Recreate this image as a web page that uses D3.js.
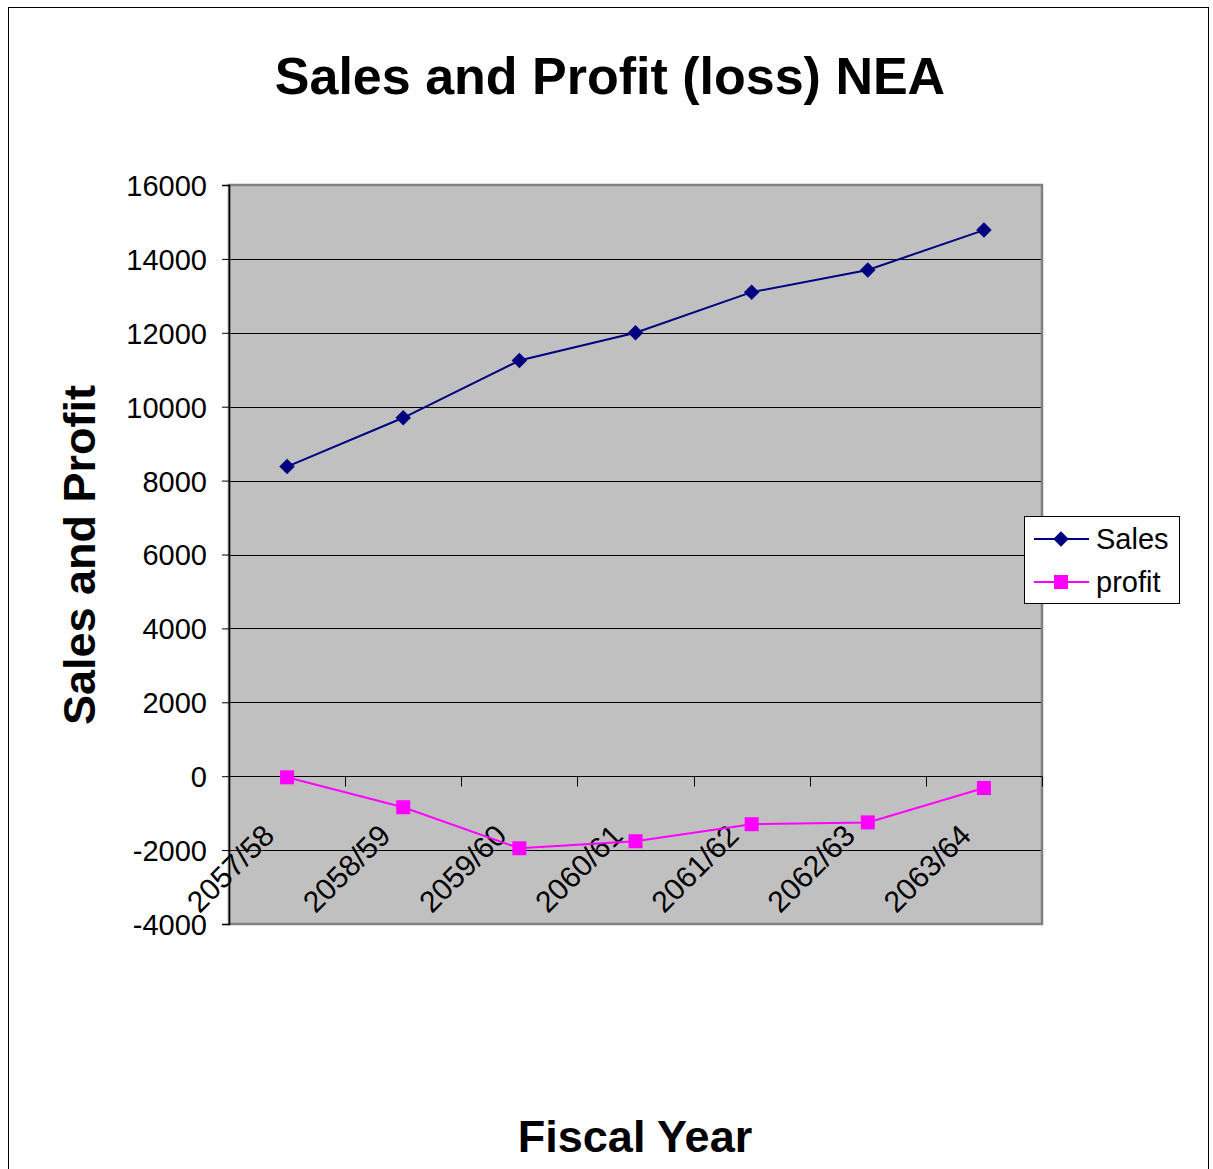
<!DOCTYPE html>
<html>
<head>
<meta charset="utf-8">
<script src="https://cdn.jsdelivr.net/npm/d3@7"></script>
<style>
  html, body { margin: 0; padding: 0; background: #fff; }
  svg { display: block; font-family: Arial, "Liberation Sans", sans-serif; }
</style>
</head>
<body>
<svg id="chart" width="1213" height="1169"></svg>
<script>
// Fiscal years and the two series plotted against them
const years = ["2057/58", "2058/59", "2059/60", "2060/61", "2061/62", "2062/63", "2063/64"];
const sales = [8380, 9700, 11250, 12000, 13100, 13700, 14780];
const profit = [-30, -840, -1950, -1760, -1300, -1250, -320];
const yTicks = [-4000, -2000, 0, 2000, 4000, 6000, 8000, 10000, 12000, 14000, 16000];

const svg = d3.select("#chart");
const W = 1213, H = 1169;

// outer frame
svg.append("rect")
  .attr("x", 8.5).attr("y", 7.5)
  .attr("width", 1200).attr("height", H + 10)
  .attr("fill", "#fff").attr("stroke", "#000").attr("stroke-width", 1);

const plot = { left: 229, top: 185, right: 1042, bottom: 924 };

const x = d3.scaleBand().domain(years).range([plot.left, plot.right]).paddingInner(0).paddingOuter(0);
const y = d3.scaleLinear().domain([-4000, 16000]).range([plot.bottom, plot.top]);

// plot area background
svg.append("rect")
  .attr("x", plot.left).attr("y", plot.top)
  .attr("width", plot.right - plot.left).attr("height", plot.bottom - plot.top)
  .attr("fill", "#C0C0C0");

// horizontal gridlines
svg.append("g")
  .selectAll("line")
  .data(yTicks.filter(t => t !== -4000 && t !== 16000))
  .join("line")
  .attr("x1", plot.left).attr("x2", plot.right)
  .attr("y1", d => Math.round(y(d)) + 0.5).attr("y2", d => Math.round(y(d)) + 0.5)
  .attr("stroke", "#000").attr("stroke-width", 1);

// plot border
svg.append("rect")
  .attr("x", plot.left).attr("y", plot.top)
  .attr("width", plot.right - plot.left).attr("height", plot.bottom - plot.top)
  .attr("fill", "none").attr("stroke", "#808080").attr("stroke-width", 2.5);

// value axis (plain hyphen for negatives)
const yAxis = d3.axisLeft(y).tickValues(yTicks).tickSize(7).tickPadding(15)
  .tickFormat(d => String(d));
const gy = svg.append("g").attr("transform", `translate(${plot.left},0)`).call(yAxis);
gy.select(".domain").attr("stroke", "#000").attr("stroke-width", 1.5);
gy.selectAll(".tick line").attr("stroke", "#000");
gy.selectAll(".tick text")
  .attr("font-size", 29).attr("fill", "#000")
  .attr("font-family", "Arial, 'Liberation Sans', sans-serif")
  .attr("dy", "0.36em");

// category axis along zero
const zeroY = Math.round(y(0)) + 0.5;
const gx = svg.append("g").attr("transform", `translate(0,${zeroY})`);
gx.append("line").attr("x1", plot.left).attr("x2", plot.right).attr("stroke", "#000").attr("stroke-width", 1);
const bounds = years.map(d => x(d)).concat([plot.right]);
gx.selectAll("line.tick")
  .data(bounds.slice(1))
  .join("line").attr("class", "tick")
  .attr("x1", d => Math.round(d) + 0.5).attr("x2", d => Math.round(d) + 0.5)
  .attr("y1", 0).attr("y2", 10)
  .attr("stroke", "#000");
gx.selectAll("text")
  .data(years)
  .join("text")
  .attr("transform", d => `translate(${x(d) + x.bandwidth() / 2 - 11},${61}) rotate(-45)`)
  .attr("text-anchor", "end")
  .attr("font-size", 30)
  .attr("fill", "#000")
  .text(d => d);

const cx = d => x(d) + x.bandwidth() / 2;
const line = d3.line().x((d, i) => cx(years[i])).y(d => y(d));

// Sales series
svg.append("path").datum(sales).attr("d", line)
  .attr("fill", "none").attr("stroke", "#000080").attr("stroke-width", 2);
svg.append("g").selectAll("path").data(sales).join("path")
  .attr("d", d3.symbol(d3.symbolSquare, 120)())
  .attr("transform", (d, i) => `translate(${cx(years[i])},${y(d)}) rotate(45)`)
  .attr("fill", "#000080");

// profit series
svg.append("path").datum(profit).attr("d", line)
  .attr("fill", "none").attr("stroke", "#FF00FF").attr("stroke-width", 2);
svg.append("g").selectAll("rect").data(profit).join("rect")
  .attr("x", (d, i) => cx(years[i]) - 7).attr("y", d => y(d) - 7)
  .attr("width", 14).attr("height", 14)
  .attr("fill", "#FF00FF");

// titles
svg.append("text")
  .attr("x", 610).attr("y", 94)
  .attr("text-anchor", "middle")
  .attr("font-size", 52).attr("font-weight", "bold")
  .text("Sales and Profit (loss) NEA");

svg.append("text")
  .attr("transform", "translate(95,555) rotate(-90)")
  .attr("text-anchor", "middle")
  .attr("font-size", 45).attr("font-weight", "bold")
  .text("Sales and Profit");

svg.append("text")
  .attr("x", 635).attr("y", 1152)
  .attr("text-anchor", "middle")
  .attr("font-size", 45).attr("font-weight", "bold")
  .text("Fiscal Year");

// legend
const lg = svg.append("g");
lg.append("rect").attr("x", 1024.5).attr("y", 516.5).attr("width", 155).attr("height", 87)
  .attr("fill", "#fff").attr("stroke", "#000").attr("stroke-width", 1);
const entries = [
  { name: "Sales", color: "#000080", y: 539, shape: "diamond" },
  { name: "profit", color: "#FF00FF", y: 582, shape: "square" }
];
entries.forEach(e => {
  lg.append("line").attr("x1", 1034).attr("x2", 1089).attr("y1", e.y).attr("y2", e.y)
    .attr("stroke", e.color).attr("stroke-width", 2);
  if (e.shape === "diamond") {
    lg.append("path").attr("d", d3.symbol(d3.symbolSquare, 120)())
      .attr("transform", `translate(1061,${e.y}) rotate(45)`).attr("fill", e.color);
  } else {
    lg.append("rect").attr("x", 1054).attr("y", e.y - 7).attr("width", 14).attr("height", 14).attr("fill", e.color);
  }
  lg.append("text").attr("x", 1096).attr("y", e.y).attr("dy", "0.36em")
    .attr("font-size", 29).text(e.name);
});
</script>
</body>
</html>
